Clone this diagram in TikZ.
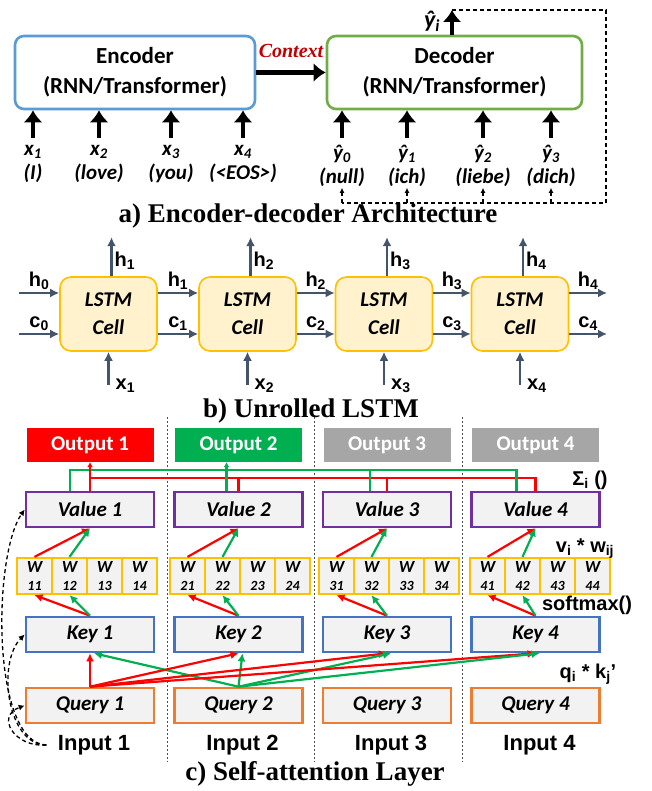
\documentclass[tikz,border=0pt]{standalone}
\usepackage{fontspec}
\setmainfont{Carlito}
\newfontfamily\arialfont{Liberation Sans}
\newfontfamily\timesfont{Liberation Serif}
\usetikzlibrary{arrows.meta,positioning,calc}
\definecolor{encblue}{HTML}{5B9BD5}
\definecolor{decgreen}{HTML}{70AD47}
\definecolor{ctxred}{HTML}{C00000}
\definecolor{lstmfill}{HTML}{FFF2CC}
\definecolor{lstmdraw}{HTML}{FFC000}
\definecolor{slate}{HTML}{44546A}
\definecolor{outred}{HTML}{FF0000}
\definecolor{outgreen}{HTML}{00B050}
\definecolor{outgray}{HTML}{A6A6A6}
\definecolor{valpurple}{HTML}{7030A0}
\definecolor{keyblue}{HTML}{4472C4}
\definecolor{qryorange}{HTML}{ED7D31}
\definecolor{boxgray}{HTML}{F2F2F2}
\tikzset{
  seqbox/.style   = {rounded corners=9pt, line width=2.6pt, minimum width=240pt,
                     minimum height=73pt, align=center, font=\fontsize{23}{30}\selectfont\bfseries},
  seqlbl/.style   = {align=center, inner sep=1pt, font=\fontsize{21}{24}\selectfont\bfseries\itshape},
  ctx/.style      = {text=ctxred, font=\timesfont\fontsize{20}{22}\selectfont\bfseries\itshape},
  bigarr/.style   = {-{Latex[length=12pt,width=19pt]}, line width=4.5pt},
  fbline/.style   = {line width=1.3pt, dash pattern=on 4pt off 3pt},
  fbarr/.style    = {fbline, -{Latex[length=5pt,width=5pt]}},
  lstmcell/.style = {draw=lstmdraw, fill=lstmfill, line width=1.6pt, rounded corners=11pt,
                     minimum width=97pt, minimum height=74pt, align=center,
                     font=\fontsize{21}{28}\selectfont\bfseries\itshape},
  lstmarr/.style  = {draw=slate, line width=2.4pt, -{Latex[length=9pt,width=9pt]}},
  hc/.style       = {inner sep=2pt, font=\arialfont\fontsize{20}{22}\selectfont\bfseries},
  caption/.style  = {font=\timesfont\fontsize{27}{30}\selectfont\bfseries},
  attbox/.style   = {line width=2.6pt, fill=boxgray, minimum width=128pt, minimum height=35pt,
                     font=\fontsize{21}{24}\selectfont\bfseries\itshape},
  outbox/.style   = {minimum width=127pt, minimum height=34pt, text=white,
                     font=\fontsize{21}{24}\selectfont\bfseries},
  valbox/.style   = {attbox, draw=valpurple},
  keybox/.style   = {attbox, draw=keyblue},
  qrybox/.style   = {attbox, draw=qryorange},
  wcell/.style    = {draw=lstmdraw, fill=boxgray, line width=2.2pt, minimum width=35pt,
                     minimum height=36pt, inner sep=0pt, align=center,
                     font=\fontsize{17}{17}\selectfont\bfseries\itshape},
  redarr/.style   = {draw=outred, line width=2.2pt, -{Latex[length=8pt,width=8pt]}},
  greenarr/.style = {draw=outgreen, line width=2.2pt, -{Latex[length=8pt,width=8pt]}},
  redbus/.style   = {draw=outred, line width=2.2pt},
  greenbus/.style = {draw=outgreen, line width=2.2pt},
  sepline/.style  = {draw=black!70, line width=0.6pt, dash pattern=on 2pt off 2pt},
  dcurve/.style   = {line width=1.3pt, dash pattern=on 4pt off 3pt, -{Latex[length=6pt,width=6pt]}},
  inlbl/.style    = {font=\arialfont\fontsize{22}{24}\selectfont\bfseries},
  oplbl/.style    = {inner sep=1pt, font=\arialfont\fontsize{20}{22}\selectfont\bfseries},
}

\begin{document}
\begin{tikzpicture}[x=1pt,y=1pt]
  \useasboundingbox (0,0) rectangle (652,791);

  % a) encoder-decoder
  \node[seqbox, draw=encblue] (enc) at (135,718.5) {Encoder\\(RNN/Transformer)};
  \node[seqbox, draw=decgreen, minimum width=255pt] (dec) at (454.5,718.5) {Decoder\\(RNN/Transformer)};
  \draw[bigarr] (enc) -- (dec) node[midway, above=9pt, ctx] {Context};
  \foreach \i/\x/\w in {1/33/I, 2/99/love, 3/171/you, 4/243/<EOS>} {
    \node[seqlbl, anchor=north] (xin\i) at (\x,647) {x\textsubscript{\i}\\(\w)};
    \draw[bigarr] ([yshift=6pt]xin\i.north) -- (xin\i.north |- enc.south);
  }
  \foreach \i/\x/\w in {0/342/null, 1/407/ich, 2/483/liebe, 3/551/dich} {
    \node[seqlbl, anchor=north] (yin\i) at (\x,647) {\^{y}\textsubscript{\i}\\(\w)};
    \draw[bigarr] ([yshift=6pt]yin\i.north) -- (yin\i.north |- dec.south);
  }
  \coordinate (yout) at (452,781);
  \coordinate (fb) at (606,588);
  \draw[bigarr] (dec.north -| yout) -- (yout);
  \node[seqlbl, font=\fontsize{24}{24}\selectfont\bfseries\itshape] (yhat) at (432,770) {\^{y}\textsubscript{i}};
  \draw[fbline] (yout) -| (fb) -- (fb -| yin0);
  \foreach \i in {0,...,3}
    \draw[fbarr] (fb -| yin\i) -- (yin\i.south);
  \node[caption] (capa) at (308,575) {a) Encoder-decoder Architecture};

  % b) unrolled LSTM
  \foreach \i/\x in {1/108.5, 2/247.5, 3/384, 4/520}
    \node[lstmcell] (cell\i) at (\x,477) {LSTM\\Cell};
  \coordinate (h0) at (19,498);
  \coordinate (c0) at (19,457);
  \coordinate (h4) at (607,498);
  \coordinate (c4) at (607,457);
  \draw[lstmarr] (h0) -- (h0 -| cell1.west) node[midway, above, hc] {h\textsubscript{0}};
  \draw[lstmarr] (c0) -- (c0 -| cell1.west) node[midway, above, hc] {c\textsubscript{0}};
  \foreach \i/\j in {1/2, 2/3, 3/4} {
    \draw[lstmarr] (cell\i.east |- h0) -- (cell\j.west |- h0) node[midway, above, hc] {h\textsubscript{\i}};
    \draw[lstmarr] (cell\i.east |- c0) -- (cell\j.west |- c0) node[midway, above, hc] {c\textsubscript{\i}};
  }
  \draw[lstmarr] (cell4.east |- h4) -- (h4) node[midway, above, hc] {h\textsubscript{4}};
  \draw[lstmarr] (cell4.east |- c4) -- (c4) node[midway, above, hc] {c\textsubscript{4}};
  \foreach \i in {1,...,4} {
    \draw[lstmarr] ([xshift=3pt]cell\i.north) -- ++(0,39) node[pos=0.4, right, hc] {h\textsubscript{\i}};
    \draw[lstmarr] ([yshift=-33pt]cell\i.south) node[right=4pt, yshift=-1pt, hc] {x\textsubscript{\i}} -- (cell\i.south);
  }
  \node[caption] (capb) at (311,380) {b) Unrolled LSTM};

  % c) self-attention
  \foreach \x in {167,314,462}
    \draw[sepline] (\x,374) -- (\x,29);
  \foreach \i/\x/\c in {1/90/outred, 2/238.5/outgreen, 3/387/outgray, 4/535.5/outgray} {
    \node[outbox, fill=\c] (out\i) at (\x,346) {Output \i};
    \node[valbox] (val\i) at (\x,281.5) {Value \i};
    \node[keybox] (key\i) at (\x,156.5) {Key \i};
    \node[qrybox] (qry\i) at (\x,85.5) {Query \i};
    \node[inlbl] (inp\i) at (\x+4,46) {Input \i};
  }
  \foreach \i/\s in {1/17, 2/170, 3/319, 4/470}
    \foreach \j in {1,...,4}
      \node[wcell] (w\i\j) at ({\s+17.5+35*(\j-1)},215) {W\\[1pt]{\fontsize{14}{14}\selectfont\i\j}};

  % sum of weighted values
  \coordinate (rbus) at (0,313);
  \coordinate (gbus) at (0,321);
  \foreach \i/\g in {1/-20pt, 2/-12pt, 3/-17pt, 4/-19pt}
    \coordinate (g\i) at ([xshift=\g]val\i.north);
  \draw[redbus] (val1.north) |- (rbus -| val4.north) -- (val4.north);
  \draw[redbus] (val2.north) -- (val2.north |- rbus);
  \draw[redbus] (val3.north) -- (val3.north |- rbus);
  \draw[greenbus] (g1) |- (gbus -| g4) -- (g4);
  \draw[greenbus] (g3) -- (g3 |- gbus);
  \draw[greenbus, -{Latex[length=5pt,width=6pt]}] (g2) -- (g2 |- out2.south);
  \draw[redbus, -{Latex[length=5pt,width=6pt]}] (val1.north |- rbus) -- (out1.south);

  \foreach \i in {1,...,4} {
    \draw[redarr] (w\i1.north) -- (val\i.south);
    \draw[greenarr] (w\i2.north) -- (val\i.south);
    \draw[redarr] (key\i.north) -- (w\i1.south);
    \draw[greenarr] (key\i.north) -- (w\i2.south);
  }
  \foreach \j in {1,...,4} {
    \draw[redarr] (qry1.north) -- (key\j.south);
    \draw[greenarr] (qry2.north) -- ([xshift=4pt]key\j.south);
  }

  \node[oplbl] (sigma) at (590,311) {Σ\textsubscript{i} ()};
  \node[oplbl] (vw) at (585,242) {v\textsubscript{i} * w\textsubscript{ij}};
  \node[oplbl] (smax) at (587,186) {softmax()};
  \node[oplbl] (qk) at (588,117) {q\textsubscript{i} * k\textsubscript{j}’};

  % inputs feed value, key and query
  \draw[dcurve] ([xshift=-8pt]inp1.west) to[out=178, in=235, looseness=0.6] (val1.west);
  \draw[dcurve] ([xshift=-8pt]inp1.west) to[out=180, in=225, looseness=0.9] (key1.west);
  \draw[dcurve] ([xshift=-8pt]inp1.west) to[out=185, in=200, looseness=1.8] (qry1.west);
  \node[caption] (capc) at (315,17) {c) Self-attention Layer};
\end{tikzpicture}
\end{document}
